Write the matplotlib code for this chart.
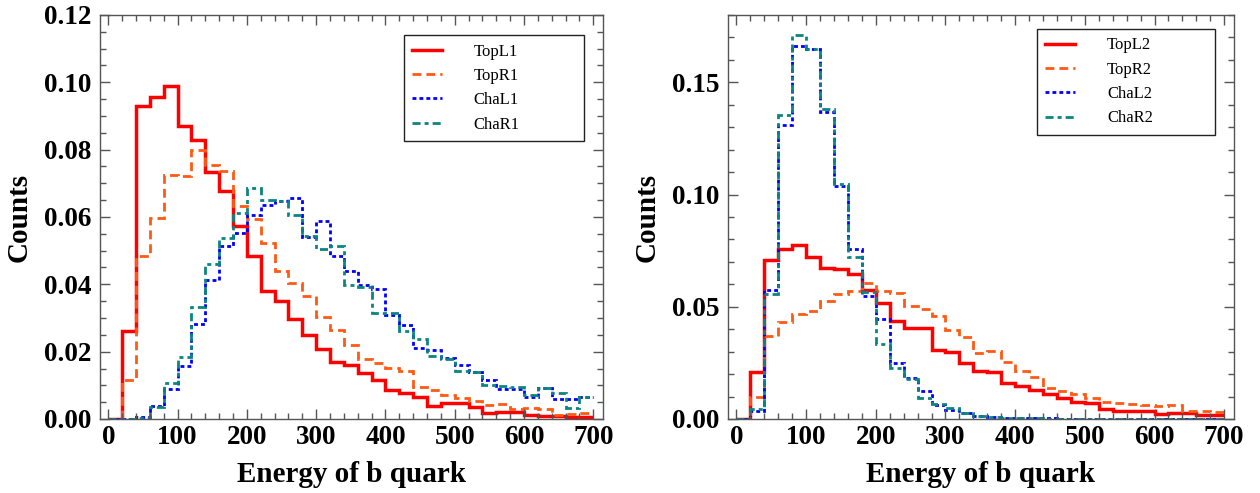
#!/usr/bin/env python3
"""
Energy of b quark: normalised histograms for the top and chargino samples
"""

import numpy as np
import matplotlib.pyplot as plt
from matplotlib.ticker import MultipleLocator, FormatStrFormatter

# Bin edges, 20 wide from 0 to 700

edges = np.arange(0, 720, 20)

# Left panel (set 1)

topL1 = [0, 0.026, 0.093, 0.0956, 0.099, 0.0871, 0.083, 0.0733, 0.0678, 0.0572,
         0.0483, 0.0379, 0.035, 0.0297, 0.025, 0.0208, 0.0168, 0.0161, 0.0137, 0.0117,
         0.0087, 0.0078, 0.0066, 0.0039, 0.0047, 0.0047, 0.0037, 0.0019, 0.0022, 0.0022,
         0.0012, 0.001, 0.0009, 0.0007, 0.0007]
topR1 = [0, 0.0117, 0.0485, 0.0597, 0.0726, 0.0723, 0.0798, 0.0755, 0.0736, 0.0634,
         0.0594, 0.0523, 0.0439, 0.0404, 0.0364, 0.0303, 0.0265, 0.0221, 0.0178, 0.0166,
         0.0151, 0.0144, 0.0096, 0.0086, 0.0071, 0.0062, 0.0052, 0.0042, 0.0045, 0.0029,
         0.0032, 0.0029, 0.0012, 0.0014, 0.0017]
chaL1 = [0, 0, 0.0006, 0.0038, 0.0089, 0.0156, 0.0283, 0.0412, 0.0513, 0.0552,
         0.0607, 0.0637, 0.0647, 0.0656, 0.054, 0.0587, 0.0483, 0.0439, 0.0399, 0.0385,
         0.031, 0.028, 0.0212, 0.0205, 0.018, 0.016, 0.0141, 0.0116, 0.0088, 0.0088,
         0.0066, 0.0091, 0.0059, 0.0059, 0.0064]
chaR1 = [0, 0, 0.0003, 0.0036, 0.0107, 0.0184, 0.0333, 0.0461, 0.0538, 0.0612,
         0.0686, 0.065, 0.0647, 0.0607, 0.0545, 0.0505, 0.0515, 0.0399, 0.0391, 0.0315,
         0.0314, 0.026, 0.0237, 0.0186, 0.0178, 0.0144, 0.0141, 0.0101, 0.0098, 0.0094,
         0.0071, 0.0091, 0.0076, 0.0032, 0.0064]

# Right panel (set 2)

topL2 = [0, 0.0208, 0.0708, 0.0759, 0.0774, 0.0723, 0.0674, 0.0667, 0.0644, 0.0574,
         0.0515, 0.0436, 0.0406, 0.0406, 0.0307, 0.03, 0.025, 0.0216, 0.0211, 0.0162,
         0.0147, 0.0129, 0.0112, 0.0092, 0.0077, 0.007, 0.0043, 0.0037, 0.0037, 0.0037,
         0.0021, 0.0025, 0.0025, 0.0018, 0.0018]
topR2 = [0, 0.010, 0.0369, 0.0432, 0.0466, 0.0481, 0.0525, 0.0555, 0.057, 0.0604,
         0.057, 0.0563, 0.0503, 0.0488, 0.046, 0.0397, 0.0365, 0.0296, 0.0301, 0.0256,
         0.0216, 0.0186, 0.014, 0.0126, 0.011, 0.0092, 0.0077, 0.0073, 0.0067, 0.0063,
         0.0058, 0.0063, 0.0037, 0.0036, 0.0033]
chaL2 = [0, 0.0034, 0.0574, 0.131, 0.166, 0.165, 0.137, 0.1036, 0.0756, 0.0548,
         0.0446, 0.025, 0.0183, 0.0124, 0.0064, 0.0042, 0.0027, 0.0015, 0.001, 0.0006,
         0.0004, 0.0003, 0.0003, 0.0002, 0.0002, 0.0002, 0.0001, 0.0001, 0.0001, 0.0001,
         0.0001, 0.0001, 0, 0, 0.0001]
chaR2 = [0, 0.0045, 0.0555, 0.1354, 0.171, 0.165, 0.138, 0.1046, 0.0723, 0.0565,
         0.0336, 0.0228, 0.0176, 0.0094, 0.0068, 0.0049, 0.0027, 0.0015, 0.001, 0.0006,
         0.0004, 0.0003, 0.0002, 0.0002, 0.0002, 0.0001, 0.0001, 0.0001, 0.0001, 0.0001,
         0, 0.0001, 0, 0, 0.0001]

labels1 = ['TopL1', 'TopR1', 'ChaL1', 'ChaR1']
labels2 = ['TopL2', 'TopR2', 'ChaL2', 'ChaR2']

# Line styles shared by both panels

colors = ['#ff0000', '#ff5a14', '#0000ff', '#0b8580']
styles = ['-', (0, (3.2, 1.8)), (0, (1.4, 1.1)), (0, (2.9, 1.45, 1.45, 1.45))]
widths = [2.5, 2.0, 2.0, 2.0]

plt.rcParams['font.family'] = ['Liberation Serif', 'DejaVu Serif']

fig = plt.figure(figsize=(12.6, 4.93), dpi=100)
ax1 = fig.add_axes([100/1260, 74/493, 503/1260, 404/493])
ax2 = fig.add_axes([728/1260, 74/493, 506/1260, 404/493])

panels = [
    (ax1, [topL1, topR1, chaL1, chaR1], labels1, 0.12, 0.02, 0.005, (0.604, 0.696, 0.358, 0.254)),
    (ax2, [topL2, topR2, chaL2, chaR2], labels2, 0.18, 0.05, 0.01, (0.611, 0.705, 0.352, 0.260)),
]

for ax, series, labels, ymax, ymaj, ymin, legbox in panels:
    for vals, lab, c, ls, lw in zip(series, labels, colors, styles, widths):
        ax.stairs(vals, edges, baseline=None, color=c, linestyle=ls, linewidth=lw, label=lab)

    ax.set_xlim(-12, 714)
    ax.set_ylim(0, ymax)
    ax.xaxis.set_major_locator(MultipleLocator(100))
    ax.xaxis.set_minor_locator(MultipleLocator(20))
    ax.yaxis.set_major_locator(MultipleLocator(ymaj))
    ax.yaxis.set_minor_locator(MultipleLocator(ymin))
    ax.yaxis.set_major_formatter(FormatStrFormatter('%.2f'))

    ax.tick_params(which='both', direction='in', top=True, right=True, color='#555555', width=1)
    ax.tick_params(which='major', length=7, labelsize=19.5)
    ax.tick_params(which='minor', length=4)
    ax.tick_params(axis='x', pad=4)
    ax.tick_params(axis='y', pad=6)
    for lbl in ax.get_xticklabels() + ax.get_yticklabels():
        lbl.set_fontweight('bold')
    for sp in ax.spines.values():
        sp.set_color('#555555')
        sp.set_linewidth(1)

    ax.set_xlabel('Energy of b quark', fontsize=21, fontweight='bold', labelpad=8)
    ax.set_ylabel('Counts', fontsize=21, fontweight='bold', labelpad=8)

    leg = ax.legend(loc='upper left', bbox_to_anchor=legbox, mode='expand', borderaxespad=0,
                    fontsize=12, handlelength=1.8, handletextpad=1.9, labelspacing=0.5,
                    fancybox=False, framealpha=1, edgecolor='#222222', borderpad=0.5)
    leg.get_frame().set_linewidth(1)

plt.savefig('out.png', dpi=100)
plt.close()
